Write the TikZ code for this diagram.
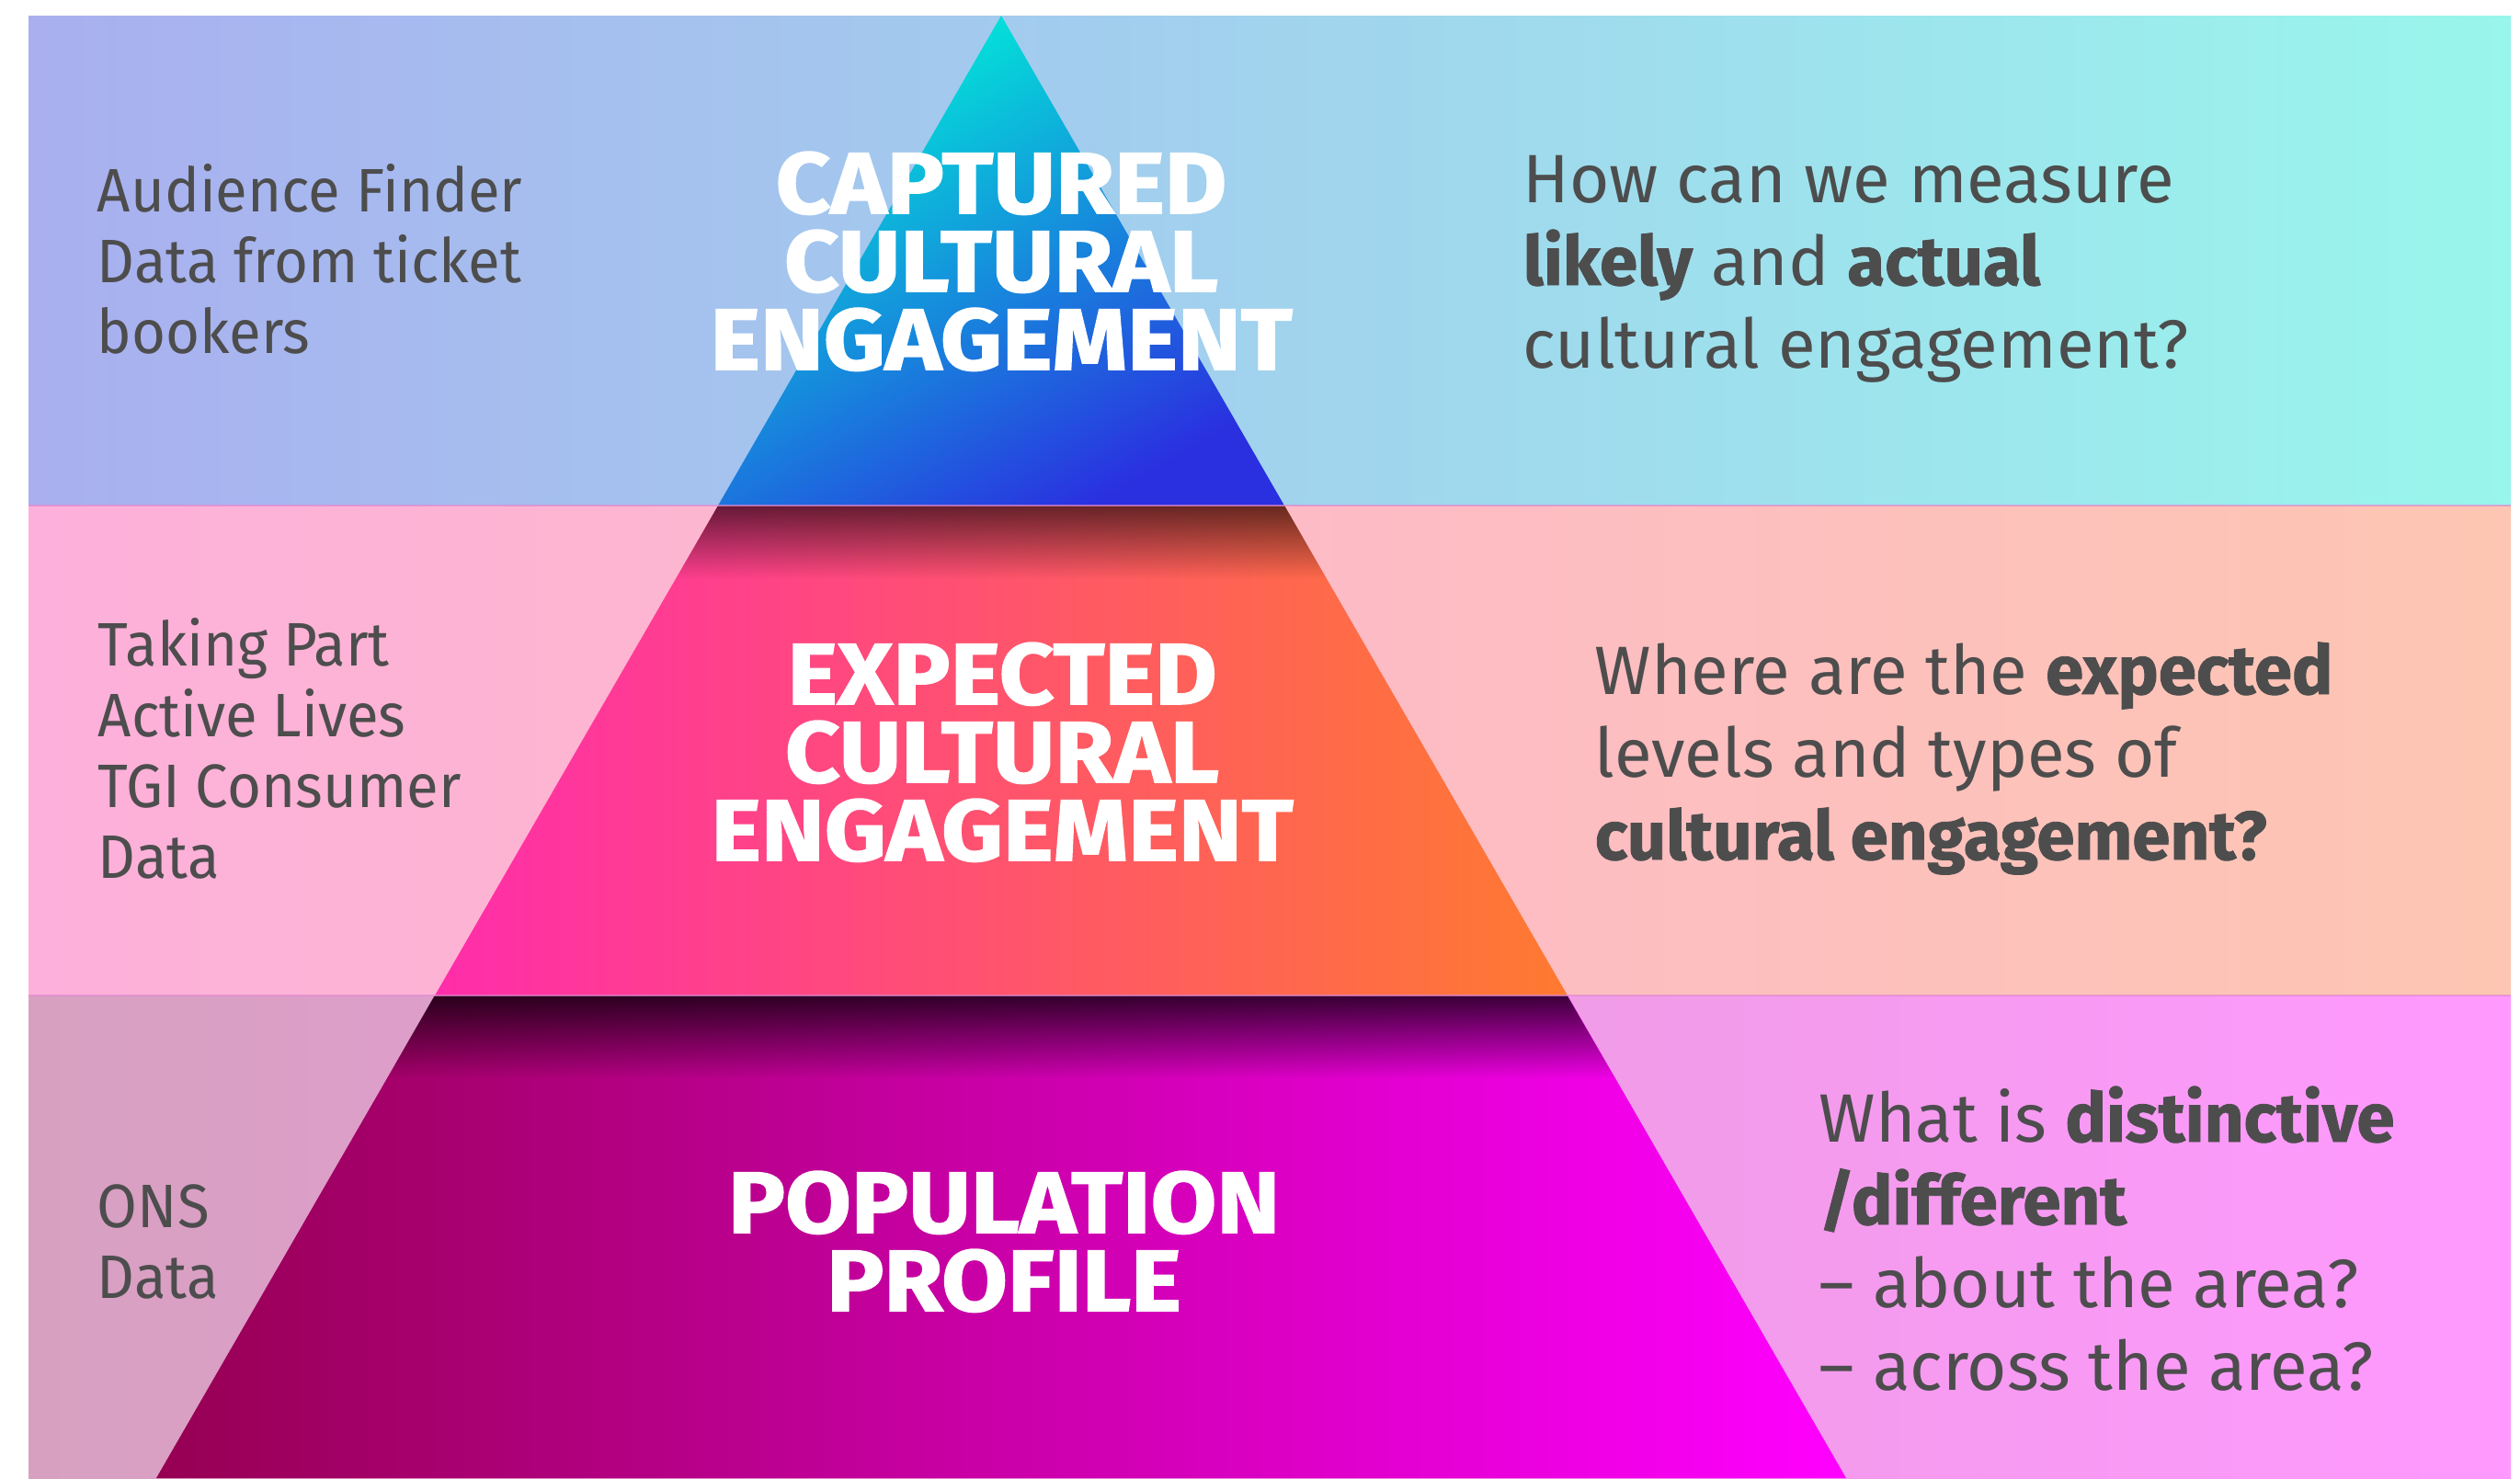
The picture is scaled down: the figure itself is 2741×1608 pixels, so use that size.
\documentclass[tikz,border=0pt]{standalone}
\usepackage{fontspec}
\setmainfont{Fira Sans}[BoldFeatures={FakeBold=1.2}]
\newfontfamily\srcfont{Fira Sans}[FakeStretch=0.95]
\newfontfamily\headfont{Fira Sans Bold}[FakeStretch=1.1,FakeBold=1.6]
\usetikzlibrary{fadings}

\definecolor{bandTopL}{HTML}{A9AFEF}
\definecolor{bandTopR}{HTML}{99F6EC}
\definecolor{bandMidL}{HTML}{FDB0DB}
\definecolor{bandMidR}{HTML}{FDC6B2}
\definecolor{bandBotL}{HTML}{D7A0C0}
\definecolor{bandBotR}{HTML}{FF99FF}
\definecolor{capTop}{HTML}{00F0D8}
\definecolor{capBot}{HTML}{2A30E0}
\definecolor{expL}{HTML}{FF2DAA}
\definecolor{expR}{HTML}{FF7A30}
\definecolor{popL}{HTML}{960052}
\definecolor{popR}{HTML}{FF00FF}
\definecolor{txtgray}{HTML}{4D4D4D}
\definecolor{sepcol}{HTML}{E08AD0}

\tikzfading[name=shadowfade,top color=transparent!0,bottom color=transparent!100]

\begin{document}
\begin{tikzpicture}[x=0.25pt,y=-0.25pt,
  srctext/.style={anchor=base west,align=left,inner sep=0pt,text=txtgray,font=\srcfont\fontsize{16.7}{19.25}\selectfont},
  asktext/.style={anchor=base west,align=left,inner sep=0pt,text=txtgray,font=\fontsize{18.6}{22.5}\selectfont},
  tiertitle/.style={anchor=base,align=center,inner sep=0pt,text=white,font=\headfont\fontsize{23.6}{21.25}\selectfont},
  tiershadow/.style={fill=black,fill opacity=#1,path fading=shadowfade},
  sepline/.style={sepcol,line width=0.5pt,opacity=0.7}]
\useasboundingbox (0,0) rectangle (2741,1608);
% bands
\shade[left color=bandTopL,right color=bandTopR] (31,17) rectangle (2731,550);
\shade[left color=bandMidL,right color=bandMidR] (31,550) rectangle (2731,1083);
\shade[left color=bandBotL,right color=bandBotR] (31,1083) rectangle (2731,1608);

% pyramid
\coordinate (apex) at (1089,17);
\coordinate (l1) at (781,550);
\coordinate (r1) at (1397,550);
\coordinate (l2) at (473,1083);
\coordinate (r2) at (1705,1083);
\coordinate (l3) at (170,1608);
\coordinate (r3) at (2008,1608);
\shade[top color=capTop,bottom color=capBot,shading angle=30] (apex) -- (r1) -- (l1) -- cycle;
\shade[left color=expL,right color=expR] (l1) -- (r1) -- (r2) -- (l2) -- cycle;
\shade[left color=popL,right color=popR] (l2) -- (r2) -- (r3) -- (l3) -- cycle;
\fill[tiershadow=0.6] (l1) -- (r1) -- (1443,630) -- (735,630) -- cycle;
\fill[tiershadow=0.75] (l2) -- (r2) -- (1757,1173) -- (421,1173) -- cycle;
\draw[sepline] (31,550) -- (2731,550);
\draw[sepline] (31,1083) -- (2731,1083);

% base anchor = last line
\node[srctext] (finder) at (105,384) {Audience Finder\\Data from ticket\\bookers};
\node[srctext] (survey) at (106,955) {Taking Part\\Active Lives\\TGI Consumer\\Data};
\node[srctext] (ons) at (105,1412) {ONS\\Data};

\node[tiertitle] (captured) at (1089,402) {CAPTURED\\CULTURAL\\ENGAGEMENT};
\node[tiertitle] (expected) at (1090,936) {EXPECTED\\CULTURAL\\ENGAGEMENT};
\node[tiertitle] (profile) at (1092,1426) {POPULATION\\PROFILE};

\node[asktext] (measure) at (1656,400) {How can we measure\\\textbf{likely} and \textbf{actual}\\cultural engagement?};
\node[asktext] (where) at (1734,935) {Where are the \textbf{expected}\\levels and types of\\\textbf{cultural engagement?}};
\node[asktext] (distinct) at (1978,1512) {What is \textbf{distinctive}\\\textbf{/different}\\– about the area?\\– across the area?};
\end{tikzpicture}
\end{document}
